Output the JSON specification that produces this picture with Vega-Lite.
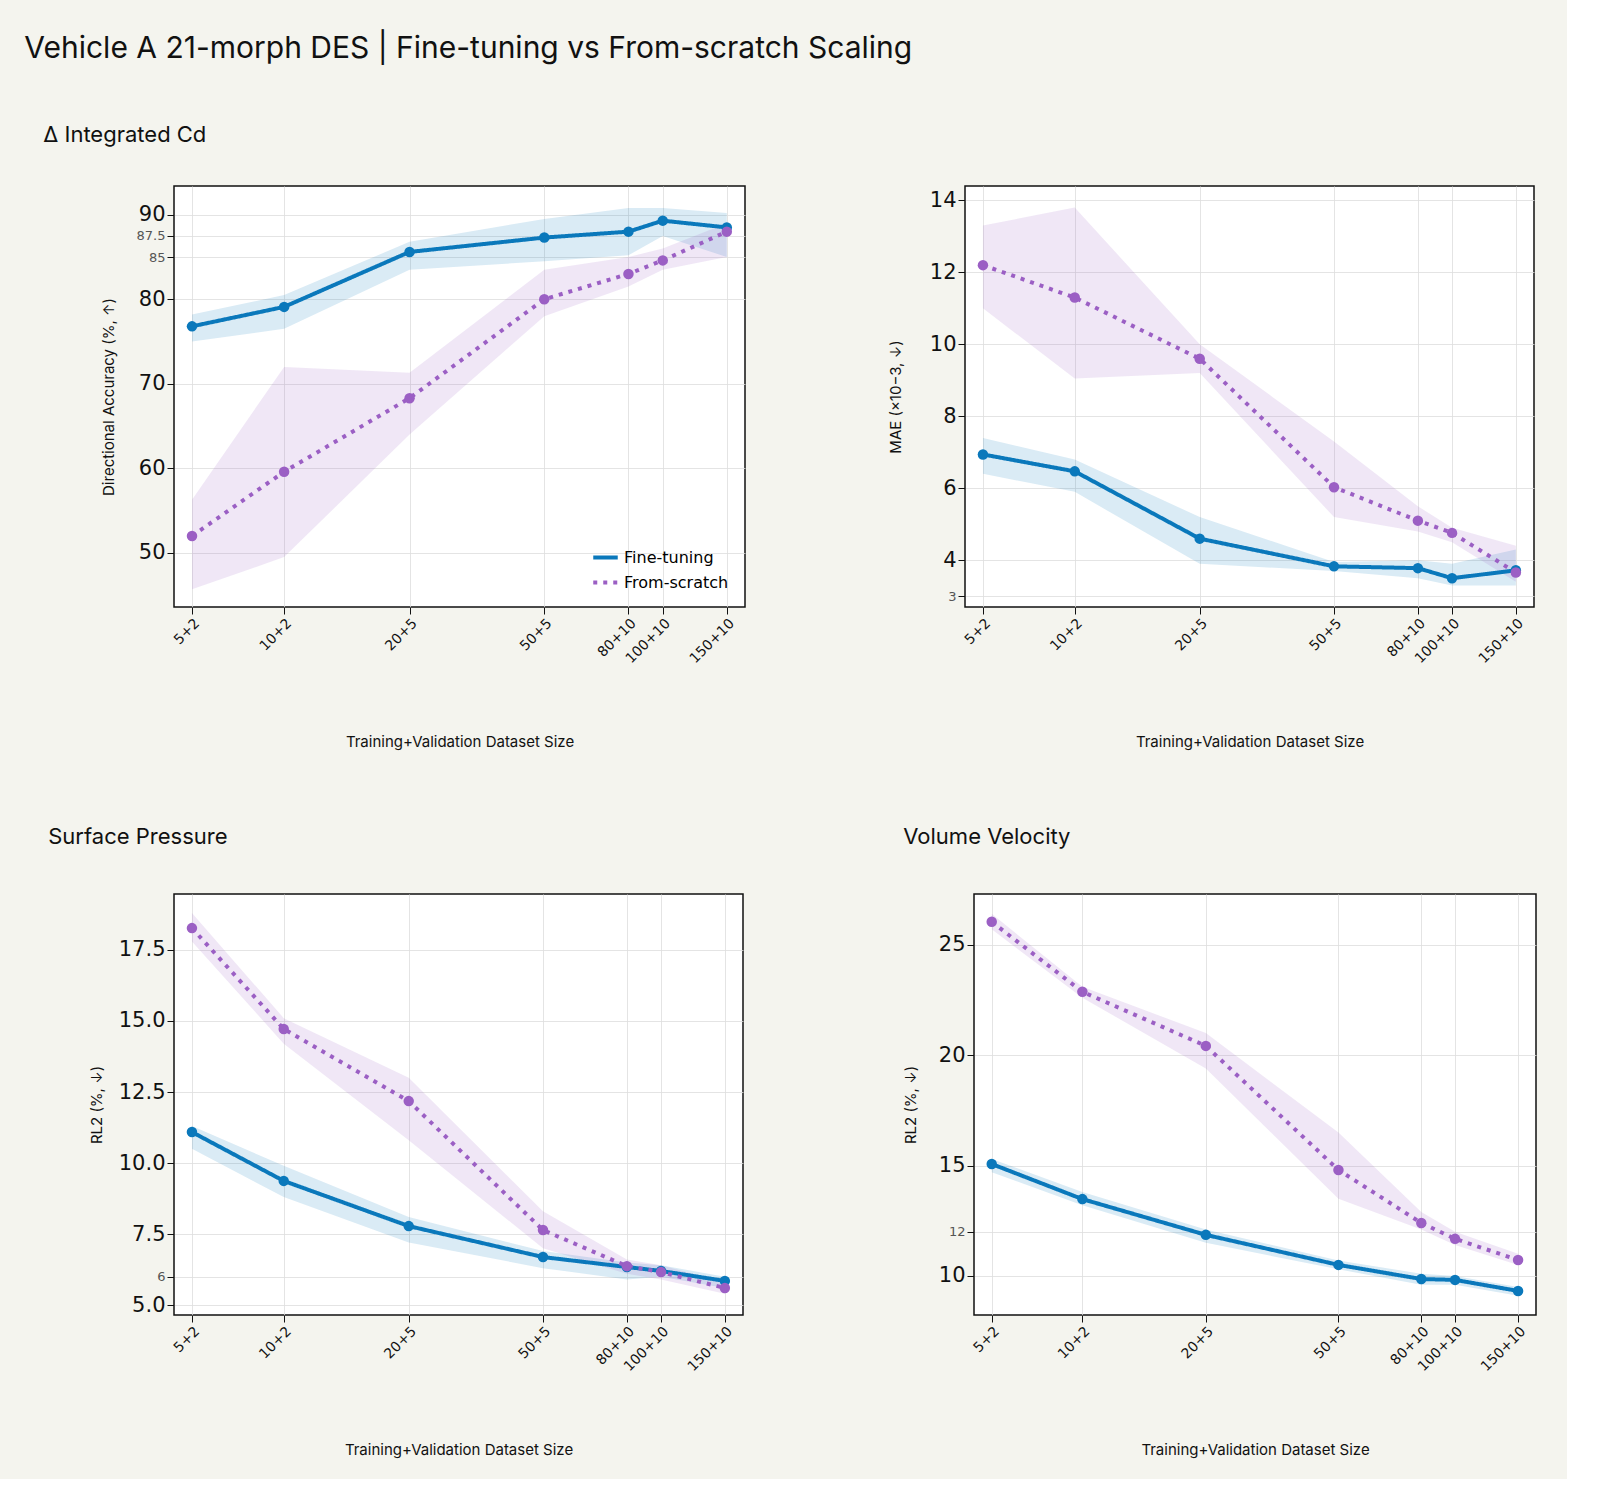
{
  "$schema": "https://vega.github.io/schema/vega-lite/v6.json",
  "background": "#f4f4ee",
  "padding": {"left": 24, "top": 34, "right": 30, "bottom": 20},
  "title": {"text": "Vehicle A 21-morph DES | Fine-tuning vs From-scratch Scaling", "anchor": "start", "dx": -19, "font": "Inter", "fontSize": 30, "fontWeight": "normal", "color": "#111", "offset": 60},
  "config": {
    "font": "DejaVu Sans",
    "view": {"fill": "white", "stroke": "#111", "strokeWidth": 1.5},
    "axis": {"gridColor": "#dddddd", "gridOpacity": 0.8, "domain": false, "tickColor": "#111", "labelColor": "#111", "titleFont": "Inter", "titleFontWeight": "normal", "titleFontSize": 15, "titleColor": "#111", "labelOverlap": false},
    "title": {"font": "Inter", "fontSize": 22, "fontWeight": "normal", "anchor": "start", "color": "#111", "offset": 38}
  },
  "datasets": {
    "pts": [
      {"panel": "A", "method": "Fine-tuning", "n": 7, "v": 76.8, "lo": 75.0, "hi": 78.2},
      {"panel": "A", "method": "Fine-tuning", "n": 12, "v": 79.1, "lo": 76.5, "hi": 80.5},
      {"panel": "A", "method": "Fine-tuning", "n": 25, "v": 85.6, "lo": 83.5, "hi": 86.8},
      {"panel": "A", "method": "Fine-tuning", "n": 55, "v": 87.3, "lo": 84.5, "hi": 89.5},
      {"panel": "A", "method": "Fine-tuning", "n": 90, "v": 88.0, "lo": 85.2, "hi": 90.8},
      {"panel": "A", "method": "Fine-tuning", "n": 110, "v": 89.3, "lo": 87.5, "hi": 90.8},
      {"panel": "A", "method": "Fine-tuning", "n": 160, "v": 88.5, "lo": 85.0, "hi": 90.2},
      {"panel": "A", "method": "From-scratch", "n": 7, "v": 52.0, "lo": 45.7, "hi": 56.3},
      {"panel": "A", "method": "From-scratch", "n": 12, "v": 59.6, "lo": 49.5, "hi": 72.0},
      {"panel": "A", "method": "From-scratch", "n": 25, "v": 68.3, "lo": 64.0, "hi": 71.3},
      {"panel": "A", "method": "From-scratch", "n": 55, "v": 80.0, "lo": 78.0, "hi": 83.5},
      {"panel": "A", "method": "From-scratch", "n": 90, "v": 83.0, "lo": 81.5, "hi": 85.0},
      {"panel": "A", "method": "From-scratch", "n": 110, "v": 84.6, "lo": 83.5, "hi": 86.0},
      {"panel": "A", "method": "From-scratch", "n": 160, "v": 88.0, "lo": 85.0, "hi": 89.0},
      {"panel": "B", "method": "Fine-tuning", "n": 7, "v": 6.94, "lo": 6.4, "hi": 7.4},
      {"panel": "B", "method": "Fine-tuning", "n": 12, "v": 6.47, "lo": 5.9, "hi": 6.8},
      {"panel": "B", "method": "Fine-tuning", "n": 25, "v": 4.6, "lo": 3.9, "hi": 5.2},
      {"panel": "B", "method": "Fine-tuning", "n": 55, "v": 3.83, "lo": 3.7, "hi": 3.95},
      {"panel": "B", "method": "Fine-tuning", "n": 90, "v": 3.78, "lo": 3.5, "hi": 4.0},
      {"panel": "B", "method": "Fine-tuning", "n": 110, "v": 3.5, "lo": 3.3, "hi": 3.9},
      {"panel": "B", "method": "Fine-tuning", "n": 160, "v": 3.72, "lo": 3.3, "hi": 4.3},
      {"panel": "B", "method": "From-scratch", "n": 7, "v": 12.2, "lo": 11.0, "hi": 13.3},
      {"panel": "B", "method": "From-scratch", "n": 12, "v": 11.3, "lo": 9.05, "hi": 13.8},
      {"panel": "B", "method": "From-scratch", "n": 25, "v": 9.6, "lo": 9.2, "hi": 10.0},
      {"panel": "B", "method": "From-scratch", "n": 55, "v": 6.03, "lo": 5.2, "hi": 7.3},
      {"panel": "B", "method": "From-scratch", "n": 90, "v": 5.1, "lo": 4.8, "hi": 5.5},
      {"panel": "B", "method": "From-scratch", "n": 110, "v": 4.76, "lo": 4.5, "hi": 4.9},
      {"panel": "B", "method": "From-scratch", "n": 160, "v": 3.66, "lo": 3.4, "hi": 4.4},
      {"panel": "C", "method": "Fine-tuning", "n": 7, "v": 11.09, "lo": 10.5, "hi": 11.3},
      {"panel": "C", "method": "Fine-tuning", "n": 12, "v": 9.37, "lo": 8.8, "hi": 9.9},
      {"panel": "C", "method": "Fine-tuning", "n": 25, "v": 7.78, "lo": 7.2, "hi": 8.1},
      {"panel": "C", "method": "Fine-tuning", "n": 55, "v": 6.69, "lo": 6.3, "hi": 6.9},
      {"panel": "C", "method": "Fine-tuning", "n": 90, "v": 6.34, "lo": 5.9, "hi": 6.5},
      {"panel": "C", "method": "Fine-tuning", "n": 110, "v": 6.2, "lo": 6.0, "hi": 6.4},
      {"panel": "C", "method": "Fine-tuning", "n": 160, "v": 5.85, "lo": 5.6, "hi": 6.0},
      {"panel": "C", "method": "From-scratch", "n": 7, "v": 18.27, "lo": 17.8, "hi": 18.8},
      {"panel": "C", "method": "From-scratch", "n": 12, "v": 14.72, "lo": 14.2, "hi": 15.1},
      {"panel": "C", "method": "From-scratch", "n": 25, "v": 12.18, "lo": 10.8, "hi": 13.0},
      {"panel": "C", "method": "From-scratch", "n": 55, "v": 7.64, "lo": 7.0, "hi": 8.3},
      {"panel": "C", "method": "From-scratch", "n": 90, "v": 6.37, "lo": 6.1, "hi": 6.6},
      {"panel": "C", "method": "From-scratch", "n": 110, "v": 6.16, "lo": 5.9, "hi": 6.4},
      {"panel": "C", "method": "From-scratch", "n": 160, "v": 5.6, "lo": 5.4, "hi": 5.8},
      {"panel": "D", "method": "Fine-tuning", "n": 7, "v": 15.07, "lo": 14.7, "hi": 15.3},
      {"panel": "D", "method": "Fine-tuning", "n": 12, "v": 13.48, "lo": 13.2, "hi": 13.8},
      {"panel": "D", "method": "Fine-tuning", "n": 25, "v": 11.86, "lo": 11.5, "hi": 12.1},
      {"panel": "D", "method": "Fine-tuning", "n": 55, "v": 10.5, "lo": 10.3, "hi": 10.7},
      {"panel": "D", "method": "Fine-tuning", "n": 90, "v": 9.86, "lo": 9.6, "hi": 10.1},
      {"panel": "D", "method": "Fine-tuning", "n": 110, "v": 9.82, "lo": 9.6, "hi": 10.0},
      {"panel": "D", "method": "Fine-tuning", "n": 160, "v": 9.32, "lo": 9.1, "hi": 9.5},
      {"panel": "D", "method": "From-scratch", "n": 7, "v": 26.04, "lo": 25.7, "hi": 26.4},
      {"panel": "D", "method": "From-scratch", "n": 12, "v": 22.87, "lo": 22.6, "hi": 23.1},
      {"panel": "D", "method": "From-scratch", "n": 25, "v": 20.42, "lo": 19.4, "hi": 21.0},
      {"panel": "D", "method": "From-scratch", "n": 55, "v": 14.8, "lo": 13.5, "hi": 16.5},
      {"panel": "D", "method": "From-scratch", "n": 90, "v": 12.4, "lo": 12.1, "hi": 12.9},
      {"panel": "D", "method": "From-scratch", "n": 110, "v": 11.68, "lo": 11.4, "hi": 12.0},
      {"panel": "D", "method": "From-scratch", "n": 160, "v": 10.72, "lo": 10.5, "hi": 11.0}
    ]
  },
  "spacing": 74,
  "resolve": {"scale": {"color": "independent", "strokeDash": "independent", "fill": "independent"}, "legend": {"color": "independent", "strokeDash": "independent", "fill": "independent"}},
  "vconcat": [
    {
      "title": {"text": "Δ Integrated Cd", "dx": -57},
      "spacing": 141,
      "resolve": {"scale": {"color": "independent", "strokeDash": "independent", "fill": "independent"}, "legend": {"color": "independent", "strokeDash": "independent", "fill": "independent"}},
      "hconcat": [
        {
          "width": 571, "height": 421,
          "data": {"name": "pts"},
          "transform": [{"filter": "datum.panel == 'A'"}],
          "encoding": {
            "x": {"field": "n", "type": "quantitative", "scale": {"type": "log", "domain": [6.3, 178], "nice": false},
              "axis": {"values": [7, 12, 25, 55, 90, 110, 160], "labelAngle": -45, "labelAlign": "right", "labelBaseline": "top", "labelFontSize": 14, "tickSize": 7, "labelExpr": "{'7':'5+2','12':'10+2','25':'20+5','55':'50+5','90':'80+10','110':'100+10','160':'150+10'}[datum.label]", "title": "Training+Validation Dataset Size", "titlePadding": 69}}
          },
          "layer": [
            {"transform": [{"filter": "datum.method == 'Fine-tuning'"}],
              "mark": {"type": "area", "opacity": 0.15, "color": "#0a78bb"},
              "encoding": {"y": {"field": "lo", "type": "quantitative"}, "y2": {"field": "hi"}}},
            {"transform": [{"filter": "datum.method == 'From-scratch'"}],
              "mark": {"type": "area", "opacity": 0.15, "color": "#9b5fc4"},
              "encoding": {"y": {"field": "lo", "type": "quantitative"}, "y2": {"field": "hi"}}},
            {"mark": {"type": "line", "strokeWidth": 4, "point": {"filled": true, "size": 110}},
              "encoding": {
                "y": {"field": "v", "type": "quantitative", "scale": {"domain": [43.6, 93.4], "nice": false, "zero": false},
                  "axis": {"values": [50, 60, 70, 80, 85, 87.5, 90], "title": "Directional Accuracy (%, ↑)", "titlePadding": 20, "tickSize": 7,
                    "labelExpr": "datum.value == 87.5 ? '87.5' : format(datum.value, 'd')",
                    "labelFontSize": {"condition": {"test": "datum.value == 85 || datum.value == 87.5", "value": 13}, "value": 21},
                    "labelColor": {"condition": {"test": "datum.value == 85 || datum.value == 87.5", "value": "#555"}, "value": "#111"}}},
                "color": {"field": "method", "type": "nominal", "scale": {"domain": ["Fine-tuning", "From-scratch"], "range": ["#0a78bb", "#9b5fc4"]},
                  "legend": {"orient": "bottom-right", "title": null, "labelFontSize": 16, "symbolType": "stroke", "symbolStrokeWidth": 4, "symbolSize": 600, "offset": 16}},
                "strokeDash": {"field": "method", "type": "nominal", "scale": {"domain": ["Fine-tuning", "From-scratch"], "range": [[1, 0], [4, 6]]},
                  "legend": {"orient": "bottom-right", "title": null, "labelFontSize": 16, "symbolType": "stroke", "symbolStrokeWidth": 4, "symbolSize": 600, "offset": 16}}
              }}
          ]
        },
        {
          "width": 569, "height": 421,
          "data": {"name": "pts"},
          "transform": [{"filter": "datum.panel == 'B'"}],
          "encoding": {
            "x": {"field": "n", "type": "quantitative", "scale": {"type": "log", "domain": [6.3, 178], "nice": false},
              "axis": {"values": [7, 12, 25, 55, 90, 110, 160], "labelAngle": -45, "labelAlign": "right", "labelBaseline": "top", "labelFontSize": 14, "tickSize": 7, "labelExpr": "{'7':'5+2','12':'10+2','25':'20+5','55':'50+5','90':'80+10','110':'100+10','160':'150+10'}[datum.label]", "title": "Training+Validation Dataset Size", "titlePadding": 69}}
          },
          "layer": [
            {"mark": {"type": "area", "opacity": 0.15},
              "encoding": {"y": {"field": "lo", "type": "quantitative"}, "y2": {"field": "hi"}, "fill": {"field": "method", "type": "nominal", "scale": {"domain": ["Fine-tuning", "From-scratch"], "range": ["#0a78bb", "#9b5fc4"]}, "legend": null}}},
            {"mark": {"type": "line", "strokeWidth": 4, "point": {"filled": true, "size": 110}},
              "encoding": {
                "y": {"field": "v", "type": "quantitative", "scale": {"domain": [2.7, 14.4], "nice": false, "zero": false},
                  "axis": {"values": [3, 4, 6, 8, 10, 12, 14], "title": "MAE (×10−3, ↓)", "titlePadding": 26, "tickSize": 7,
                    "labelFontSize": {"condition": {"test": "datum.value == 3", "value": 13}, "value": 21},
                    "labelColor": {"condition": {"test": "datum.value == 3", "value": "#555"}, "value": "#111"}}},
                "color": {"field": "method", "type": "nominal", "scale": {"domain": ["Fine-tuning", "From-scratch"], "range": ["#0a78bb", "#9b5fc4"]}, "legend": null},
                "strokeDash": {"field": "method", "type": "nominal", "scale": {"domain": ["Fine-tuning", "From-scratch"], "range": [[1, 0], [4, 6]]}, "legend": null}
              }}
          ]
        }
      ]
    },
    {
      "spacing": 158,
      "resolve": {"scale": {"color": "independent", "strokeDash": "independent", "fill": "independent"}, "legend": {"color": "independent", "strokeDash": "independent", "fill": "independent"}},
      "hconcat": [
        {
          "title": {"text": "Surface Pressure", "offset": 45, "dx": -41},
          "width": 569, "height": 421,
          "data": {"name": "pts"},
          "transform": [{"filter": "datum.panel == 'C'"}],
          "encoding": {
            "x": {"field": "n", "type": "quantitative", "scale": {"type": "log", "domain": [6.3, 178], "nice": false},
              "axis": {"values": [7, 12, 25, 55, 90, 110, 160], "labelAngle": -45, "labelAlign": "right", "labelBaseline": "top", "labelFontSize": 14, "tickSize": 7, "labelExpr": "{'7':'5+2','12':'10+2','25':'20+5','55':'50+5','90':'80+10','110':'100+10','160':'150+10'}[datum.label]", "title": "Training+Validation Dataset Size", "titlePadding": 69}}
          },
          "layer": [
            {"mark": {"type": "area", "opacity": 0.15},
              "encoding": {"y": {"field": "lo", "type": "quantitative"}, "y2": {"field": "hi"}, "fill": {"field": "method", "type": "nominal", "scale": {"domain": ["Fine-tuning", "From-scratch"], "range": ["#0a78bb", "#9b5fc4"]}, "legend": null}}},
            {"mark": {"type": "line", "strokeWidth": 4, "point": {"filled": true, "size": 110}},
              "encoding": {
                "y": {"field": "v", "type": "quantitative", "scale": {"domain": [4.65, 19.47], "nice": false, "zero": false},
                  "axis": {"values": [5, 6, 7.5, 10, 12.5, 15, 17.5], "format": ".1f", "title": "RL2 (%, ↓)", "titlePadding": 14, "tickSize": 7,
                    "labelExpr": "datum.value == 6 ? '6' : datum.label",
                    "labelFontSize": {"condition": {"test": "datum.value == 6", "value": 13}, "value": 21},
                    "labelColor": {"condition": {"test": "datum.value == 6", "value": "#555"}, "value": "#111"}}},
                "color": {"field": "method", "type": "nominal", "scale": {"domain": ["Fine-tuning", "From-scratch"], "range": ["#0a78bb", "#9b5fc4"]}, "legend": null},
                "strokeDash": {"field": "method", "type": "nominal", "scale": {"domain": ["Fine-tuning", "From-scratch"], "range": [[1, 0], [4, 6]]}, "legend": null}
              }}
          ]
        },
        {
          "title": {"text": "Volume Velocity", "offset": 45},
          "width": 562, "height": 421,
          "data": {"name": "pts"},
          "transform": [{"filter": "datum.panel == 'D'"}],
          "encoding": {
            "x": {"field": "n", "type": "quantitative", "scale": {"type": "log", "domain": [6.3, 178], "nice": false},
              "axis": {"values": [7, 12, 25, 55, 90, 110, 160], "labelAngle": -45, "labelAlign": "right", "labelBaseline": "top", "labelFontSize": 14, "tickSize": 7, "labelExpr": "{'7':'5+2','12':'10+2','25':'20+5','55':'50+5','90':'80+10','110':'100+10','160':'150+10'}[datum.label]", "title": "Training+Validation Dataset Size", "titlePadding": 69}}
          },
          "layer": [
            {"mark": {"type": "area", "opacity": 0.15},
              "encoding": {"y": {"field": "lo", "type": "quantitative"}, "y2": {"field": "hi"}, "fill": {"field": "method", "type": "nominal", "scale": {"domain": ["Fine-tuning", "From-scratch"], "range": ["#0a78bb", "#9b5fc4"]}, "legend": null}}},
            {"mark": {"type": "line", "strokeWidth": 4, "point": {"filled": true, "size": 110}},
              "encoding": {
                "y": {"field": "v", "type": "quantitative", "scale": {"domain": [8.23, 27.3], "nice": false, "zero": false},
                  "axis": {"values": [10, 12, 15, 20, 25], "title": "RL2 (%, ↓)", "titlePadding": 20, "tickSize": 7,
                    "labelFontSize": {"condition": {"test": "datum.value == 12", "value": 13}, "value": 21},
                    "labelColor": {"condition": {"test": "datum.value == 12", "value": "#555"}, "value": "#111"}}},
                "color": {"field": "method", "type": "nominal", "scale": {"domain": ["Fine-tuning", "From-scratch"], "range": ["#0a78bb", "#9b5fc4"]}, "legend": null},
                "strokeDash": {"field": "method", "type": "nominal", "scale": {"domain": ["Fine-tuning", "From-scratch"], "range": [[1, 0], [4, 6]]}, "legend": null}
              }}
          ]
        }
      ]
    }
  ]
}
